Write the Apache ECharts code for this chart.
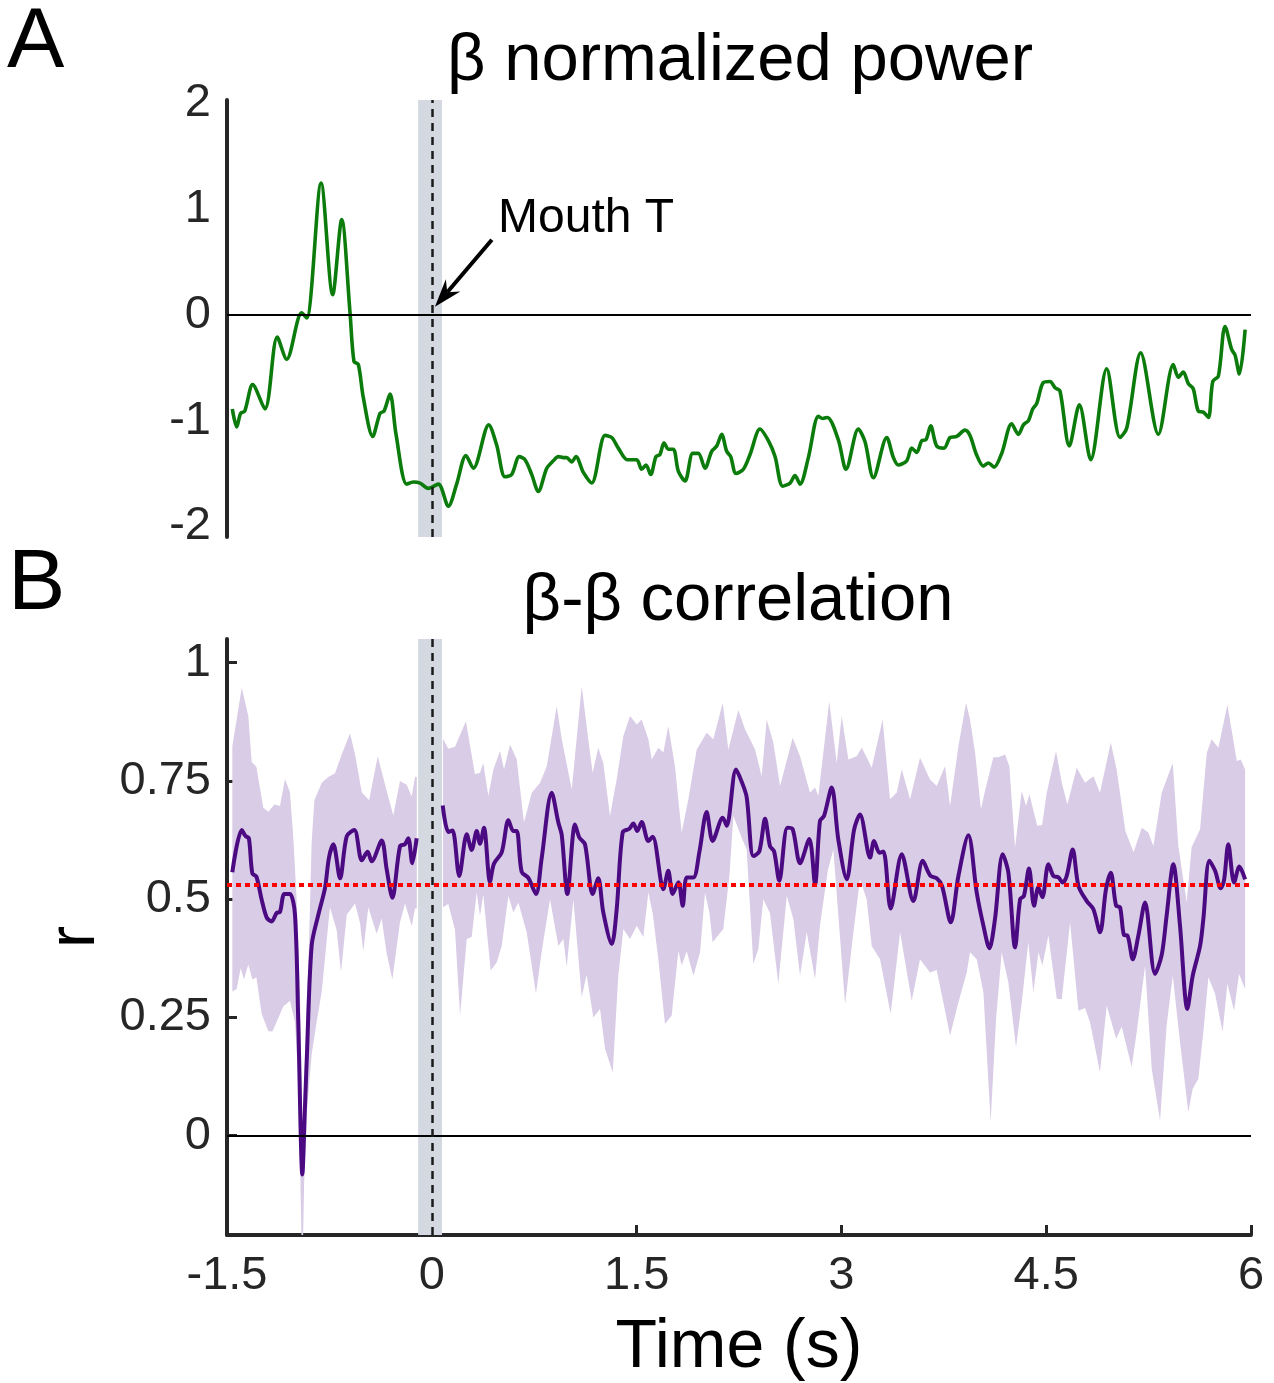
<!DOCTYPE html>
<html><head><meta charset="utf-8">
<script src="https://cdn.jsdelivr.net/npm/echarts@6/dist/echarts.min.js"></script>
<style>html,body{margin:0;padding:0;background:#fff;}#c{width:1274px;height:1383px;}</style>
</head><body><div id="c"></div>
<script>
const FONT = '"Liberation Sans", Arial, Helvetica, sans-serif';

// ---- data (time in s, value) ----
const xTicks = [-1.5, 0, 1.5, 3, 4.5, 6];
const yTicksPower = [-2, -1, 0, 1, 2];
const yTicksCorr = [0, 0.25, 0.5, 0.75, 1];
const mouthOnset = 0;
const shadeStart = -0.1, shadeEnd = 0.075;
const corrThreshold = 0.528;

const betaPower = [[-1.461,-0.89],[-1.429,-1.06],[-1.400,-0.93],[-1.370,-0.91],[-1.312,-0.66],[-1.222,-0.89],[-1.132,-0.21],[-1.063,-0.42],[-0.953,0.02],[-0.916,-0.03],[-0.811,1.245],[-0.726,0.19],[-0.660,0.90],[-0.599,0.02],[-0.570,-0.44],[-0.538,-0.47],[-0.502,-0.78],[-0.433,-1.15],[-0.379,-0.93],[-0.350,-0.91],[-0.306,-0.75],[-0.262,-1.13],[-0.184,-1.60],[-0.135,-1.58],[-0.086,-1.59],[-0.025,-1.64],[0.048,-1.60],[0.121,-1.81],[0.182,-1.60],[0.250,-1.33],[0.304,-1.45],[0.417,-1.04],[0.475,-1.23],[0.536,-1.53],[0.585,-1.51],[0.641,-1.34],[0.683,-1.37],[0.732,-1.51],[0.780,-1.67],[0.842,-1.45],[0.890,-1.38],[0.927,-1.34],[0.963,-1.35],[0.988,-1.35],[1.024,-1.39],[1.056,-1.34],[1.110,-1.49],[1.171,-1.59],[1.269,-1.14],[1.318,-1.16],[1.366,-1.26],[1.432,-1.37],[1.501,-1.37],[1.537,-1.46],[1.569,-1.42],[1.603,-1.51],[1.642,-1.34],[1.671,-1.32],[1.701,-1.21],[1.732,-1.27],[1.769,-1.27],[1.806,-1.48],[1.855,-1.57],[1.911,-1.31],[1.952,-1.31],[2.001,-1.45],[2.050,-1.29],[2.087,-1.24],[2.123,-1.13],[2.160,-1.29],[2.189,-1.34],[2.228,-1.50],[2.282,-1.46],[2.331,-1.32],[2.404,-1.08],[2.465,-1.19],[2.514,-1.34],[2.570,-1.62],[2.624,-1.59],[2.660,-1.52],[2.697,-1.60],[2.758,-1.35],[2.831,-0.96],[2.863,-0.98],[2.897,-0.97],[2.977,-1.18],[3.034,-1.46],[3.124,-1.08],[3.173,-1.20],[3.234,-1.54],[3.332,-1.16],[3.381,-1.35],[3.417,-1.42],[3.478,-1.38],[3.515,-1.26],[3.552,-1.30],[3.588,-1.19],[3.620,-1.18],[3.654,-1.05],[3.698,-1.24],[3.752,-1.26],[3.796,-1.16],[3.845,-1.15],[3.905,-1.09],[3.942,-1.14],[3.986,-1.31],[4.040,-1.43],[4.077,-1.40],[4.118,-1.44],[4.174,-1.31],[4.247,-1.03],[4.296,-1.13],[4.333,-1.04],[4.370,-1.00],[4.401,-0.89],[4.430,-0.84],[4.479,-0.64],[4.528,-0.63],[4.565,-0.69],[4.601,-0.72],[4.669,-1.24],[4.743,-0.85],[4.826,-1.37],[4.943,-0.51],[5.041,-1.16],[5.090,-1.07],[5.192,-0.36],[5.321,-1.13],[5.431,-0.47],[5.468,-0.59],[5.504,-0.54],[5.541,-0.65],[5.577,-0.70],[5.614,-0.91],[5.651,-0.92],[5.688,-0.97],[5.720,-0.63],[5.761,-0.58],[5.810,-0.11],[5.859,-0.33],[5.883,-0.38],[5.915,-0.56],[5.957,-0.14]];

const betaCorr = [[-1.461,0.557],[-1.392,0.646],[-1.363,0.633],[-1.340,0.629],[-1.314,0.554],[-1.285,0.548],[-1.246,0.499],[-1.209,0.461],[-1.173,0.453],[-1.136,0.471],[-1.112,0.473],[-1.080,0.511],[-1.039,0.511],[-1.002,0.467],[-0.978,0.24],[-0.948,-0.082],[-0.929,0.06],[-0.916,0.16],[-0.880,0.402],[-0.831,0.467],[-0.782,0.524],[-0.753,0.588],[-0.721,0.616],[-0.672,0.544],[-0.623,0.633],[-0.567,0.646],[-0.513,0.582],[-0.470,0.600],[-0.440,0.58],[-0.367,0.624],[-0.331,0.564],[-0.289,0.503],[-0.233,0.612],[-0.197,0.616],[-0.172,0.629],[-0.143,0.576],[-0.111,0.629],[-0.01,null],[0.080,0.698],[0.121,0.642],[0.152,0.645],[0.201,0.549],[0.256,0.637],[0.292,0.604],[0.329,0.644],[0.353,0.617],[0.382,0.651],[0.426,0.537],[0.455,0.575],[0.512,0.599],[0.561,0.667],[0.597,0.644],[0.622,0.644],[0.658,0.558],[0.707,0.545],[0.763,0.511],[0.804,0.585],[0.878,0.725],[0.927,0.662],[0.952,0.635],[0.993,0.511],[1.049,0.658],[1.081,0.630],[1.122,0.616],[1.178,0.511],[1.219,0.544],[1.256,0.472],[1.318,0.405],[1.354,0.478],[1.398,0.641],[1.447,0.649],[1.476,0.660],[1.505,0.644],[1.537,0.663],[1.586,0.623],[1.618,0.632],[1.696,0.521],[1.732,0.560],[1.764,0.511],[1.806,0.536],[1.838,0.486],[1.867,0.546],[1.916,0.546],[1.960,0.600],[2.013,0.684],[2.057,0.623],[2.131,0.672],[2.160,0.655],[2.228,0.774],[2.270,0.748],[2.306,0.716],[2.355,0.591],[2.399,0.601],[2.441,0.670],[2.477,0.612],[2.507,0.601],[2.545,0.539],[2.604,0.651],[2.643,0.648],[2.697,0.576],[2.765,0.627],[2.807,0.532],[2.843,0.665],[2.873,0.676],[2.929,0.736],[2.977,0.627],[3.039,0.542],[3.093,0.647],[3.136,0.679],[3.210,0.588],[3.239,0.623],[3.279,0.598],[3.308,0.601],[3.361,0.480],[3.442,0.595],[3.527,0.496],[3.596,0.581],[3.650,0.550],[3.698,0.544],[3.737,0.528],[3.801,0.451],[3.857,0.549],[3.930,0.635],[3.991,0.514],[4.040,0.444],[4.084,0.396],[4.125,0.458],[4.181,0.595],[4.223,0.556],[4.272,0.398],[4.309,0.500],[4.337,0.507],[4.374,0.565],[4.411,0.486],[4.442,0.525],[4.472,0.504],[4.516,0.574],[4.553,0.549],[4.590,0.546],[4.621,0.535],[4.650,0.549],[4.694,0.605],[4.736,0.528],[4.797,0.496],[4.845,0.479],[4.894,0.430],[4.938,0.521],[4.973,0.556],[5.012,0.486],[5.041,0.483],[5.070,0.424],[5.095,0.423],[5.134,0.373],[5.175,0.423],[5.224,0.493],[5.297,0.342],[5.346,0.382],[5.382,0.465],[5.431,0.574],[5.480,0.444],[5.534,0.268],[5.573,0.338],[5.627,0.401],[5.651,0.458],[5.695,0.581],[5.737,0.560],[5.778,0.523],[5.802,0.539],[5.834,0.616],[5.876,0.535],[5.915,0.569],[5.957,0.542]];

const corrUpper = [[-1.461,0.823],[-1.392,0.947],[-1.344,0.887],[-1.319,0.79],[-1.285,0.78],[-1.234,0.693],[-1.197,0.685],[-1.153,0.70],[-1.112,0.697],[-1.075,0.754],[-1.039,0.726],[-1.014,0.629],[-0.99,0.50],[-0.965,0.30],[-0.948,0.0],[-0.93,0.15],[-0.916,0.28],[-0.90,0.40],[-0.88,0.62],[-0.860,0.709],[-0.806,0.746],[-0.758,0.758],[-0.709,0.766],[-0.660,0.806],[-0.599,0.851],[-0.562,0.806],[-0.513,0.726],[-0.459,0.709],[-0.396,0.802],[-0.342,0.742],[-0.282,0.677],[-0.233,0.75],[-0.184,0.742],[-0.147,0.717],[-0.123,0.758],[-0.11,0.758],[0.082,0.839],[0.121,0.818],[0.170,0.822],[0.250,0.876],[0.316,0.764],[0.353,0.767],[0.377,0.788],[0.414,0.718],[0.451,0.774],[0.500,0.813],[0.529,0.774],[0.573,0.827],[0.622,0.795],[0.675,0.662],[0.732,0.725],[0.793,0.746],[0.842,0.781],[0.915,0.908],[0.952,0.838],[1.025,0.732],[1.098,0.95],[1.146,0.838],[1.178,0.767],[1.219,0.82],[1.256,0.788],[1.305,0.676],[1.354,0.753],[1.403,0.845],[1.452,0.887],[1.501,0.869],[1.537,0.88],[1.586,0.838],[1.611,0.795],[1.659,0.82],[1.696,0.81],[1.732,0.866],[1.781,0.781],[1.830,0.641],[1.879,0.711],[1.940,0.816],[2.013,0.852],[2.062,0.838],[2.131,0.915],[2.172,0.816],[2.245,0.90],[2.294,0.859],[2.331,0.838],[2.368,0.816],[2.416,0.76],[2.453,0.88],[2.501,0.831],[2.551,0.739],[2.643,0.841],[2.697,0.802],[2.770,0.725],[2.807,0.736],[2.831,0.718],[2.911,0.918],[2.966,0.788],[3.002,0.887],[3.051,0.795],[3.112,0.802],[3.149,0.82],[3.185,0.80],[3.222,0.778],[3.302,0.88],[3.356,0.711],[3.405,0.725],[3.442,0.774],[3.503,0.711],[3.576,0.799],[3.649,0.753],[3.698,0.739],[3.759,0.781],[3.796,0.697],[3.857,0.823],[3.913,0.915],[3.942,0.88],[3.979,0.81],[4.022,0.69],[4.052,0.729],[4.113,0.80],[4.150,0.80],[4.199,0.806],[4.230,0.781],[4.272,0.609],[4.321,0.729],[4.352,0.697],[4.377,0.722],[4.434,0.655],[4.470,0.657],[4.504,0.725],[4.572,0.813],[4.614,0.746],[4.655,0.70],[4.724,0.778],[4.784,0.746],[4.846,0.76],[4.894,0.725],[4.973,0.831],[5.016,0.774],[5.080,0.644],[5.140,0.599],[5.200,0.651],[5.248,0.641],[5.285,0.612],[5.346,0.725],[5.427,0.788],[5.468,0.612],[5.529,0.493],[5.565,0.61],[5.627,0.648],[5.676,0.809],[5.712,0.838],[5.761,0.82],[5.827,0.911],[5.896,0.792],[5.925,0.795],[5.957,0.774]];

const corrLower = [[-1.461,0.305],[-1.429,0.31],[-1.400,0.354],[-1.376,0.33],[-1.344,0.362],[-1.314,0.33],[-1.285,0.335],[-1.246,0.257],[-1.197,0.221],[-1.168,0.22],[-1.136,0.241],[-1.088,0.273],[-1.039,0.285],[-1.002,0.24],[-0.975,0.10],[-0.955,-0.21],[-0.945,-0.25],[-0.935,-0.10],[-0.915,0.05],[-0.880,0.172],[-0.843,0.241],[-0.806,0.305],[-0.746,0.483],[-0.697,0.435],[-0.665,0.346],[-0.623,0.467],[-0.562,0.491],[-0.526,0.45],[-0.502,0.39],[-0.465,0.483],[-0.404,0.427],[-0.367,0.459],[-0.331,0.386],[-0.289,0.33],[-0.233,0.451],[-0.196,0.491],[-0.147,0.443],[-0.123,0.48],[-0.11,0.48],[0.082,0.483],[0.121,0.49],[0.170,0.435],[0.207,0.254],[0.256,0.416],[0.292,0.42],[0.329,0.514],[0.353,0.465],[0.377,0.51],[0.431,0.349],[0.475,0.366],[0.512,0.401],[0.561,0.507],[0.597,0.472],[0.634,0.493],[0.695,0.43],[0.763,0.30],[0.804,0.387],[0.866,0.50],[0.927,0.401],[0.964,0.416],[0.988,0.356],[1.037,0.50],[1.098,0.293],[1.134,0.34],[1.183,0.25],[1.232,0.268],[1.269,0.184],[1.325,0.134],[1.366,0.338],[1.403,0.437],[1.452,0.416],[1.501,0.444],[1.549,0.42],[1.586,0.514],[1.618,0.47],[1.659,0.373],[1.708,0.236],[1.757,0.254],[1.806,0.391],[1.830,0.36],[1.867,0.39],[1.916,0.338],[1.965,0.388],[2.001,0.514],[2.033,0.472],[2.057,0.409],[2.135,0.437],[2.18,0.55],[2.209,0.676],[2.270,0.63],[2.306,0.605],[2.355,0.363],[2.392,0.395],[2.428,0.50],[2.477,0.47],[2.538,0.321],[2.600,0.507],[2.648,0.458],[2.697,0.338],[2.746,0.43],[2.807,0.331],[2.843,0.444],[2.90,0.56],[2.941,0.605],[3.027,0.278],[3.088,0.43],[3.136,0.542],[3.185,0.50],[3.222,0.401],[3.283,0.373],[3.361,0.257],[3.430,0.43],[3.515,0.285],[3.576,0.373],[3.649,0.345],[3.698,0.35],[3.796,0.212],[3.857,0.282],[3.918,0.345],[3.942,0.388],[3.991,0.373],[4.040,0.303],[4.093,0.029],[4.133,0.247],[4.174,0.388],[4.223,0.324],[4.279,0.187],[4.321,0.282],[4.369,0.409],[4.406,0.303],[4.443,0.388],[4.472,0.36],[4.516,0.423],[4.578,0.289],[4.614,0.289],[4.675,0.451],[4.736,0.264],[4.785,0.27],[4.821,0.24],[4.894,0.134],[4.943,0.275],[5.012,0.205],[5.053,0.23],[5.126,0.145],[5.163,0.219],[5.224,0.359],[5.273,0.141],[5.334,0.032],[5.382,0.233],[5.427,0.338],[5.480,0.198],[5.541,0.05],[5.573,0.099],[5.614,0.12],[5.651,0.219],[5.688,0.335],[5.737,0.30],[5.792,0.219],[5.827,0.321],[5.876,0.264],[5.912,0.342],[5.957,0.31]];

// annotation: arrow tip / tail in data units of panel A
const arrowSpec = [[0.023, 0.077, 0.44, 0.71]];

// ---- chart ----
const chart = echarts.init(document.getElementById('c'), null, {renderer: 'canvas', width: 1274, height: 1383});

const splitAt = (arr) => [arr.filter(p => p[0] < mouthOnset), arr.filter(p => p[0] > mouthOnset)];
const hiSeg = splitAt(corrUpper), loSeg = splitAt(corrLower);

const AX = '#262626';
const labelStyle = {fontSize: 47, color: AX, fontFamily: FONT};

const option = {
  animation: false,
  backgroundColor: '#ffffff',
  textStyle: {fontFamily: FONT},
  grid: [
    {left: 227, width: 1024, top: 100, height: 437},
    {left: 227, width: 1024, top: 639, height: 597}
  ],
  xAxis: [
    {gridIndex: 0, type: 'value', min: xTicks[0], max: xTicks[xTicks.length - 1], interval: 1.5, show: false},
    {gridIndex: 1, type: 'value', min: xTicks[0], max: xTicks[xTicks.length - 1], interval: 1.5,
     axisLine: {show: true, onZero: false, lineStyle: {color: AX, width: 4}},
     axisTick: {show: true, inside: true, length: 10, lineStyle: {color: AX, width: 3}},
     axisLabel: Object.assign({margin: 18}, labelStyle),
     splitLine: {show: false},
     name: 'Time (s)', nameLocation: 'middle', nameGap: 79,
     nameTextStyle: {fontSize: 68, color: '#000', fontFamily: FONT}}
  ],
  yAxis: [
    {gridIndex: 0, type: 'value', min: -2.1, max: 2.03,
     axisLine: {show: true, onZero: false, lineStyle: {color: AX, width: 4}},
     axisTick: {show: false},
     axisLabel: Object.assign({margin: 16, customValues: yTicksPower}, labelStyle),
     splitLine: {show: false}},
    {gridIndex: 1, type: 'value', min: -0.21, max: 1.05,
     axisLine: {show: true, onZero: false, lineStyle: {color: AX, width: 4}},
     axisTick: {show: true, inside: true, length: 10, customValues: yTicksCorr, lineStyle: {color: AX, width: 3}},
     axisLabel: Object.assign({margin: 16, customValues: yTicksCorr}, labelStyle),
     splitLine: {show: false},
     name: 'r', nameLocation: 'middle', nameGap: 117, nameRotate: 90,
     nameTextStyle: {fontSize: 66, color: '#000', fontFamily: FONT}}
  ],
  series: [
    {type: 'line', xAxisIndex: 0, yAxisIndex: 0, data: [], z: 1, silent: true,
     markArea: {silent: true, itemStyle: {color: '#d3d8e1', opacity: 1},
       data: [[{xAxis: shadeStart}, {xAxis: shadeEnd}]]}},
    {type: 'line', xAxisIndex: 0, yAxisIndex: 0, data: [], z: 2, silent: true,
     markLine: {silent: true, symbol: 'none', label: {show: false},
       lineStyle: {color: '#000', width: 2, type: 'solid'},
       data: [{yAxis: 0}]}},
    {type: 'line', xAxisIndex: 0, yAxisIndex: 0, data: betaPower, z: 3,
     showSymbol: false, smooth: 0.3, lineStyle: {color: '#0b7c0b', width: 3.6}, silent: true},
    {type: 'line', xAxisIndex: 0, yAxisIndex: 0, data: [], z: 4, silent: true,
     markLine: {silent: true, symbol: 'none', label: {show: false},
       lineStyle: {color: '#1a1a1a', width: 2.5, type: [8, 6]},
       data: [{xAxis: mouthOnset}]}},
    {type: 'custom', xAxisIndex: 0, yAxisIndex: 0, z: 5, silent: true, data: arrowSpec,
     renderItem: function (params, api) {
       const tip = api.coord([api.value(0), api.value(1)]);
       const tail = api.coord([api.value(2), api.value(3)]);
       const dx = tip[0] - tail[0], dy = tip[1] - tail[1];
       const L = Math.hypot(dx, dy), ux = dx / L, uy = dy / L, px = -uy, py = ux;
       const hl = 28, hw = 9.5, notch = 19;
       const b = [tip[0] - ux * hl, tip[1] - uy * hl];
       const p1 = [b[0] + px * hw, b[1] + py * hw], p2 = [b[0] - px * hw, b[1] - py * hw];
       const n = [tip[0] - ux * notch, tip[1] - uy * notch];
       return {type: 'group', children: [
         {type: 'line', shape: {x1: tail[0], y1: tail[1], x2: n[0], y2: n[1]}, style: {stroke: '#000', lineWidth: 4}},
         {type: 'polygon', shape: {points: [tip, p1, n, p2]}, style: {fill: '#000'}}
       ]};
     }},
    {type: 'line', xAxisIndex: 1, yAxisIndex: 1, data: [], z: 1, silent: true,
     markArea: {silent: true, itemStyle: {color: '#d3d8e1', opacity: 1},
       data: [[{xAxis: shadeStart}, {xAxis: shadeEnd}]]}},
    {type: 'custom', xAxisIndex: 1, yAxisIndex: 1, z: 2, silent: true, clip: true,
     data: [[-1, 0.5], [3, 0.5]],
     renderItem: function (params, api) {
       const hi = hiSeg[params.dataIndex], lo = loSeg[params.dataIndex];
       const pts = hi.map(p => api.coord(p)).concat(lo.slice().reverse().map(p => api.coord(p)));
       return {type: 'polygon', shape: {points: pts}, style: {fill: '#d9cce6'}};
     }},
    {type: 'line', xAxisIndex: 1, yAxisIndex: 1, data: [], z: 3, silent: true,
     markLine: {silent: true, symbol: 'none', label: {show: false},
       lineStyle: {color: '#000', width: 2, type: 'solid'},
       data: [{yAxis: 0}]}},
    {type: 'line', xAxisIndex: 1, yAxisIndex: 1, data: betaCorr, z: 4, connectNulls: false,
     showSymbol: false, smooth: 0.3, lineStyle: {color: '#4b0a82', width: 4}, silent: true},
    {type: 'line', xAxisIndex: 1, yAxisIndex: 1, data: [], z: 5, silent: true,
     markLine: {silent: true, symbol: 'none', label: {show: false},
       data: [
         {yAxis: corrThreshold, lineStyle: {color: '#ff0000', width: 4, type: [5, 4]}},
         {xAxis: mouthOnset, lineStyle: {color: '#1a1a1a', width: 2.5, type: [8, 6]}}
       ]}}
  ],
  graphic: [
    {type: 'text', x: 7, y: 43.5, silent: true,
     style: {text: 'A', fontSize: 86, fontFamily: FONT, fill: '#000', align: 'left', verticalAlign: 'middle', textAlign: 'left', textVerticalAlign: 'middle'}},
    {type: 'text', x: 8, y: 585, silent: true,
     style: {text: 'B', fontSize: 86, fontFamily: FONT, fill: '#000', align: 'left', verticalAlign: 'middle', textAlign: 'left', textVerticalAlign: 'middle'}},
    {type: 'text', x: 740, y: 62, silent: true,
     style: {text: 'β normalized power', fontSize: 67, fontFamily: FONT, fill: '#000', align: 'center', verticalAlign: 'middle', textAlign: 'center', textVerticalAlign: 'middle'}},
    {type: 'text', x: 738, y: 602, silent: true,
     style: {text: 'β-β correlation', fontSize: 67, fontFamily: FONT, fill: '#000', align: 'center', verticalAlign: 'middle', textAlign: 'center', textVerticalAlign: 'middle'}},
    {type: 'text', x: 498, y: 219, silent: true,
     style: {text: 'Mouth T', fontSize: 48, fontFamily: FONT, fill: '#000', align: 'left', verticalAlign: 'middle', textAlign: 'left', textVerticalAlign: 'middle'}}
  ]
};
chart.setOption(option);
</script></body></html>
